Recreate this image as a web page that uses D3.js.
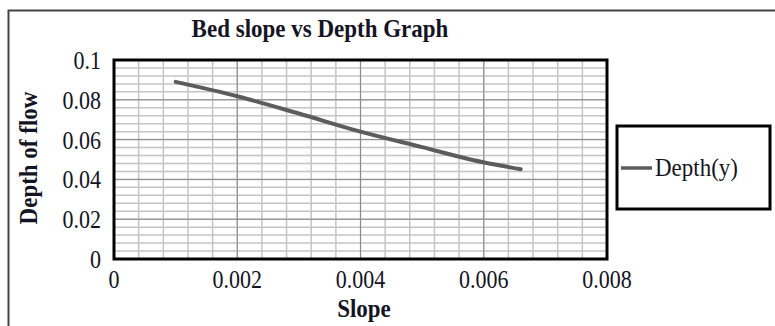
<!DOCTYPE html>
<html>
<head>
<meta charset="utf-8">
<script src="https://cdn.jsdelivr.net/npm/d3@7"></script>
<style>
  body { margin: 0; background: #fff; }
  text { font-family: "Liberation Serif", "Times New Roman", serif; fill: #141424; }
</style>
</head>
<body>
<svg id="chart"></svg>
<script>
// data
const slope = [0.001, 0.002, 0.003, 0.004, 0.005, 0.0058, 0.0066];
const depth = [0.089, 0.0818, 0.0731, 0.064, 0.0562, 0.0499, 0.0451];
const xTicks = [0, 0.002, 0.004, 0.006, 0.008];
const yTicks = [0, 0.02, 0.04, 0.06, 0.08, 0.1];

const width = 775, height = 326;
const plot = { left: 114, right: 607, top: 60, bottom: 259 };
const lineColor = "#5c5c5c";
const tall = 1.12; // glyphs in the picture are a bit taller than the font

const svg = d3.select("#chart").attr("width", width).attr("height", height);

// text placed at (px, py) with a slight vertical stretch
function label(parent, px, py, str, size, opts = {}) {
  return parent.append("text")
    .attr("transform", `translate(${px},${py})${opts.rotate ? " rotate(-90)" : ""} scale(1,${tall})`)
    .attr("text-anchor", opts.anchor || "start")
    .attr("font-size", size)
    .attr("font-weight", opts.bold ? "bold" : null)
    .text(str);
}

// outer chart border (runs off right and bottom edges)
svg.append("rect")
  .attr("x", 8.5).attr("y", 10.5)
  .attr("width", 800).attr("height", 340)
  .attr("fill", "none").attr("stroke", "#444").attr("stroke-width", 2);

const x = d3.scaleLinear().domain([0, 0.008]).range([plot.left, plot.right]);
const y = d3.scaleLinear().domain([0, 0.1]).range([plot.bottom, plot.top]);

// minor gridlines
const g = svg.append("g");
g.selectAll(".vminor")
  .data(d3.range(0, 21).map(i => i * 0.0004))
  .enter().append("line")
  .attr("x1", d => x(d)).attr("x2", d => x(d))
  .attr("y1", plot.top).attr("y2", plot.bottom)
  .attr("stroke", "#c4c4c4").attr("stroke-width", 1.5);
g.selectAll(".hminor")
  .data(d3.range(0, 26).map(i => i * 0.004))
  .enter().append("line")
  .attr("x1", plot.left).attr("x2", plot.right)
  .attr("y1", d => y(d)).attr("y2", d => y(d))
  .attr("stroke", "#c4c4c4").attr("stroke-width", 1.5);

// major gridlines
g.selectAll(".vmajor").data(xTicks).enter().append("line")
  .attr("x1", d => x(d)).attr("x2", d => x(d))
  .attr("y1", plot.top).attr("y2", plot.bottom)
  .attr("stroke", "#8a8a8a").attr("stroke-width", 1);
g.selectAll(".hmajor").data(yTicks).enter().append("line")
  .attr("x1", plot.left).attr("x2", plot.right)
  .attr("y1", d => y(d)).attr("y2", d => y(d))
  .attr("stroke", "#8a8a8a").attr("stroke-width", 1);

// plot frame
svg.append("rect")
  .attr("x", plot.left).attr("y", plot.top)
  .attr("width", plot.right - plot.left).attr("height", plot.bottom - plot.top)
  .attr("fill", "none").attr("stroke", "#000").attr("stroke-width", 3);

// series
const pts = slope.map((s, i) => [s, depth[i]]);
const line = d3.line()
  .x(d => x(d[0]))
  .y(d => y(d[1]))
  .curve(d3.curveCatmullRom);
svg.append("path")
  .datum(pts)
  .attr("d", line)
  .attr("fill", "none")
  .attr("stroke", lineColor)
  .attr("stroke-width", 4)
  .attr("stroke-linecap", "round");

// tick labels
const xl = svg.append("g");
xTicks.forEach(d => label(xl, x(d), 288, d, 22, { anchor: "middle" }));
const yl = svg.append("g");
yTicks.forEach(d => label(yl, 101, y(d) + 9, d, 22, { anchor: "end" }));

// titles
label(svg, 320, 37, "Bed slope vs Depth Graph", 23, { anchor: "middle", bold: true });
label(svg, 364, 317, "Slope", 23, { anchor: "middle", bold: true });
label(svg, 37, 158, "Depth of flow", 23, { anchor: "middle", bold: true, rotate: true });

// legend
const legend = svg.append("g");
legend.append("rect")
  .attr("x", 617).attr("y", 126)
  .attr("width", 153).attr("height", 83)
  .attr("fill", "#fff").attr("stroke", "#000").attr("stroke-width", 3);
legend.append("line")
  .attr("x1", 621).attr("x2", 652)
  .attr("y1", 168).attr("y2", 168)
  .attr("stroke", lineColor).attr("stroke-width", 3.5);
label(legend, 655, 176, "Depth(y)", 23);
</script>
</body>
</html>
